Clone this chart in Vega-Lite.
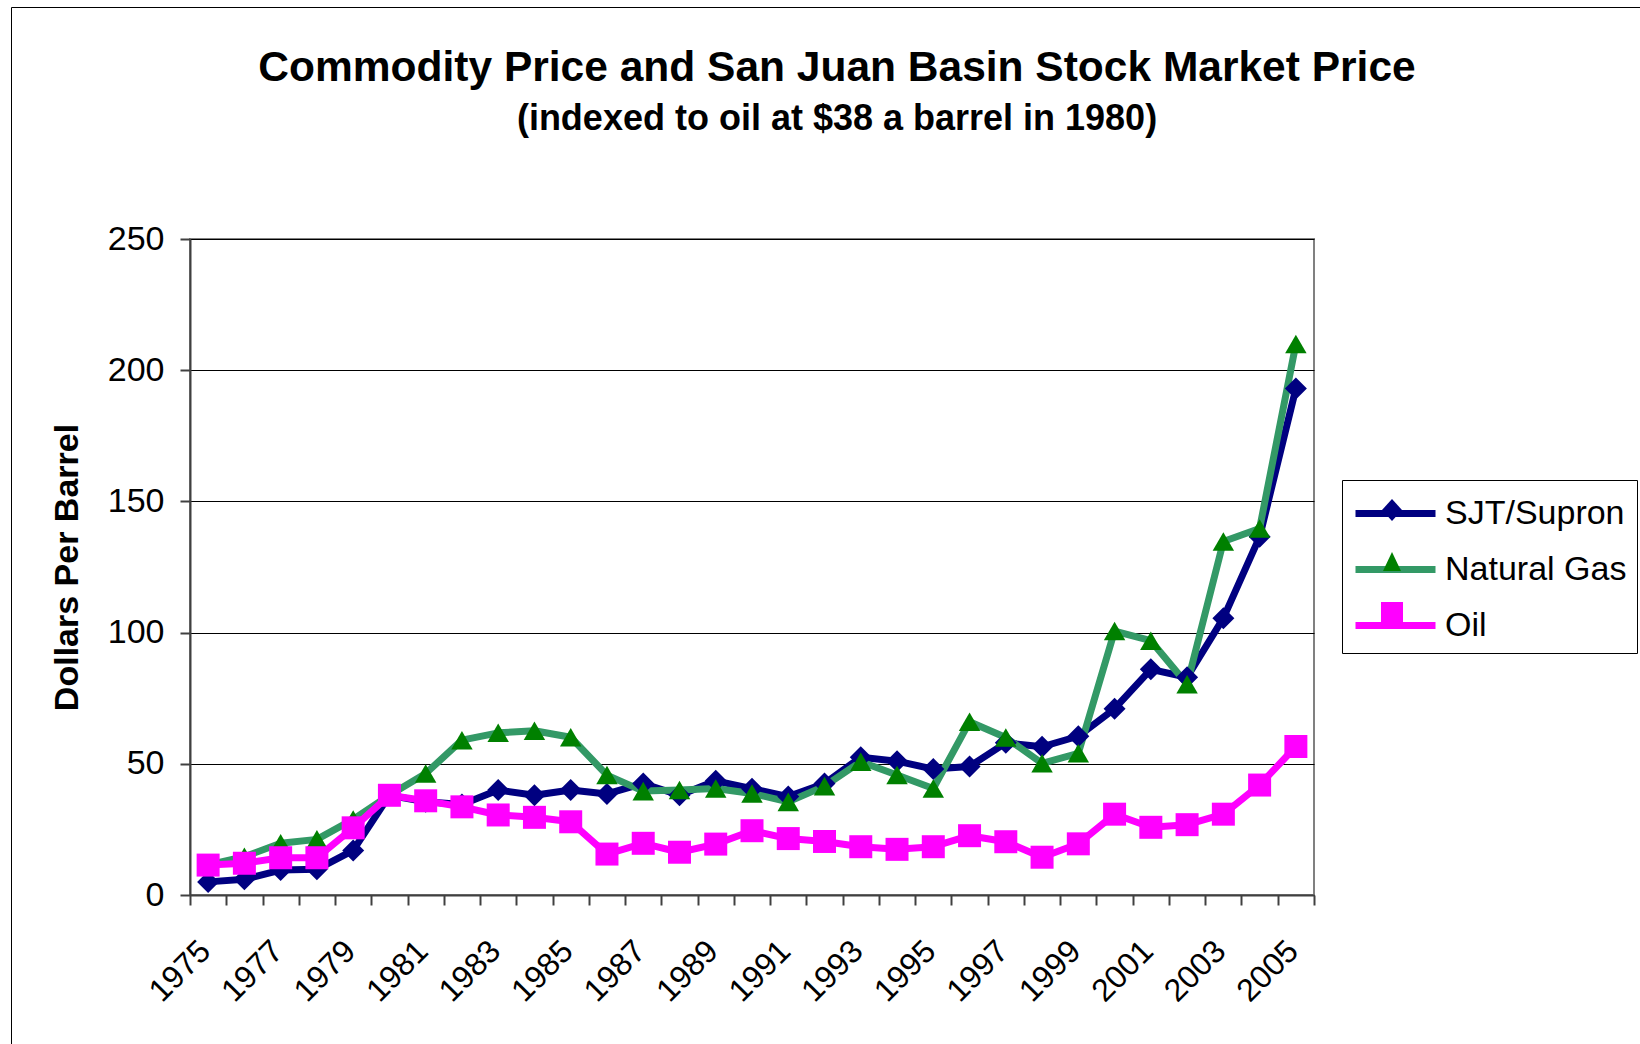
{
  "$schema": "https://vega.github.io/schema/vega-lite/v6.json",
  "width": 1124,
  "height": 656,
  "autosize": {"type": "none"},
  "padding": {"left": 190, "top": 239, "right": 326, "bottom": 149},
  "background": "white",
  "title": {
    "text": "Commodity Price and San Juan Basin Stock Market Price",
    "subtitle": "(indexed to oil at $38 a barrel in 1980)",
    "anchor": "middle",
    "frame": "group",
    "dx": 85,
    "offset": -130,
    "font": "Liberation Sans",
    "fontSize": 42.5,
    "fontWeight": "bold",
    "color": "black",
    "subtitleFont": "Liberation Sans",
    "subtitleFontSize": 36,
    "subtitleFontWeight": "bold",
    "subtitleColor": "black",
    "subtitlePadding": 12
  },
  "config": {
    "view": {"stroke": "#808080", "strokeWidth": 2},
    "axis": {"labelFont": "Liberation Sans", "titleFont": "Liberation Sans"}
  },
  "data": {
    "values": [
      {"year": "1975", "series": "SJT/Supron", "value": 5},
      {"year": "1976", "series": "SJT/Supron", "value": 6},
      {"year": "1977", "series": "SJT/Supron", "value": 9.5},
      {"year": "1978", "series": "SJT/Supron", "value": 9.8},
      {"year": "1979", "series": "SJT/Supron", "value": 17},
      {"year": "1980", "series": "SJT/Supron", "value": 38},
      {"year": "1981", "series": "SJT/Supron", "value": 35.5},
      {"year": "1982", "series": "SJT/Supron", "value": 34.5},
      {"year": "1983", "series": "SJT/Supron", "value": 40},
      {"year": "1984", "series": "SJT/Supron", "value": 38},
      {"year": "1985", "series": "SJT/Supron", "value": 40},
      {"year": "1986", "series": "SJT/Supron", "value": 38.5},
      {"year": "1987", "series": "SJT/Supron", "value": 42.5},
      {"year": "1988", "series": "SJT/Supron", "value": 38},
      {"year": "1989", "series": "SJT/Supron", "value": 43.5},
      {"year": "1990", "series": "SJT/Supron", "value": 40.5},
      {"year": "1991", "series": "SJT/Supron", "value": 37.5},
      {"year": "1992", "series": "SJT/Supron", "value": 42.5},
      {"year": "1993", "series": "SJT/Supron", "value": 52.5},
      {"year": "1994", "series": "SJT/Supron", "value": 51},
      {"year": "1995", "series": "SJT/Supron", "value": 48},
      {"year": "1996", "series": "SJT/Supron", "value": 49},
      {"year": "1997", "series": "SJT/Supron", "value": 58},
      {"year": "1998", "series": "SJT/Supron", "value": 56.5},
      {"year": "1999", "series": "SJT/Supron", "value": 60.5},
      {"year": "2000", "series": "SJT/Supron", "value": 71},
      {"year": "2001", "series": "SJT/Supron", "value": 86},
      {"year": "2002", "series": "SJT/Supron", "value": 83},
      {"year": "2003", "series": "SJT/Supron", "value": 105.5},
      {"year": "2004", "series": "SJT/Supron", "value": 136.5},
      {"year": "2005", "series": "SJT/Supron", "value": 193},
      {"year": "1975", "series": "Natural Gas", "value": 11.5},
      {"year": "1976", "series": "Natural Gas", "value": 14.6},
      {"year": "1977", "series": "Natural Gas", "value": 19.7},
      {"year": "1978", "series": "Natural Gas", "value": 21.2},
      {"year": "1979", "series": "Natural Gas", "value": 28.8},
      {"year": "1980", "series": "Natural Gas", "value": 38},
      {"year": "1981", "series": "Natural Gas", "value": 46.3},
      {"year": "1982", "series": "Natural Gas", "value": 59},
      {"year": "1983", "series": "Natural Gas", "value": 61.8},
      {"year": "1984", "series": "Natural Gas", "value": 62.6},
      {"year": "1985", "series": "Natural Gas", "value": 60.1},
      {"year": "1986", "series": "Natural Gas", "value": 45.7},
      {"year": "1987", "series": "Natural Gas", "value": 39.6},
      {"year": "1988", "series": "Natural Gas", "value": 40},
      {"year": "1989", "series": "Natural Gas", "value": 40.6},
      {"year": "1990", "series": "Natural Gas", "value": 38.7},
      {"year": "1991", "series": "Natural Gas", "value": 35.5},
      {"year": "1992", "series": "Natural Gas", "value": 41.5},
      {"year": "1993", "series": "Natural Gas", "value": 50.8},
      {"year": "1994", "series": "Natural Gas", "value": 45.7},
      {"year": "1995", "series": "Natural Gas", "value": 40.6},
      {"year": "1996", "series": "Natural Gas", "value": 66},
      {"year": "1997", "series": "Natural Gas", "value": 60},
      {"year": "1998", "series": "Natural Gas", "value": 50.2},
      {"year": "1999", "series": "Natural Gas", "value": 54},
      {"year": "2000", "series": "Natural Gas", "value": 100.6},
      {"year": "2001", "series": "Natural Gas", "value": 96.9},
      {"year": "2002", "series": "Natural Gas", "value": 80.3},
      {"year": "2003", "series": "Natural Gas", "value": 134.7},
      {"year": "2004", "series": "Natural Gas", "value": 139.7},
      {"year": "2005", "series": "Natural Gas", "value": 210},
      {"year": "1975", "series": "Oil", "value": 11.4},
      {"year": "1976", "series": "Oil", "value": 12.1},
      {"year": "1977", "series": "Oil", "value": 14.2},
      {"year": "1978", "series": "Oil", "value": 14.2},
      {"year": "1979", "series": "Oil", "value": 25.6},
      {"year": "1980", "series": "Oil", "value": 38},
      {"year": "1981", "series": "Oil", "value": 35.9},
      {"year": "1982", "series": "Oil", "value": 33.6},
      {"year": "1983", "series": "Oil", "value": 30.5},
      {"year": "1984", "series": "Oil", "value": 29.6},
      {"year": "1985", "series": "Oil", "value": 27.9},
      {"year": "1986", "series": "Oil", "value": 15.6},
      {"year": "1987", "series": "Oil", "value": 19.7},
      {"year": "1988", "series": "Oil", "value": 16.3},
      {"year": "1989", "series": "Oil", "value": 19.4},
      {"year": "1990", "series": "Oil", "value": 24.5},
      {"year": "1991", "series": "Oil", "value": 21.5},
      {"year": "1992", "series": "Oil", "value": 20.4},
      {"year": "1993", "series": "Oil", "value": 18.4},
      {"year": "1994", "series": "Oil", "value": 17.4},
      {"year": "1995", "series": "Oil", "value": 18.4},
      {"year": "1996", "series": "Oil", "value": 22.6},
      {"year": "1997", "series": "Oil", "value": 20.3},
      {"year": "1998", "series": "Oil", "value": 14.4},
      {"year": "1999", "series": "Oil", "value": 19.5},
      {"year": "2000", "series": "Oil", "value": 30.8},
      {"year": "2001", "series": "Oil", "value": 25.8},
      {"year": "2002", "series": "Oil", "value": 26.8},
      {"year": "2003", "series": "Oil", "value": 30.8},
      {"year": "2004", "series": "Oil", "value": 41.9},
      {"year": "2005", "series": "Oil", "value": 56.6}
    ]
  },
  "encoding": {
    "x": {
      "field": "year",
      "type": "ordinal",
      "scale": {"type": "band", "paddingInner": 0, "paddingOuter": 0},
      "bandPosition": 0.5,
      "axis": {
        "title": null,
        "labelAngle": -45,
        "labelAlign": "right",
        "labelBaseline": "top",
        "labelFontSize": 32,
        "labelColor": "black",
        "labelOverlap": false,
        "labelExpr": "(+datum.value) % 2 == 1 ? datum.value : ''",
        "labelOffset": -14,
        "tickBand": "extent",
        "tickSize": 10,
        "tickColor": "#404040",
        "tickWidth": 2,
        "domainColor": "#404040",
        "domainWidth": 2,
        "labelPadding": 30,
        "grid": false
      }
    },
    "y": {
      "field": "value",
      "type": "quantitative",
      "scale": {"domain": [0, 250], "nice": false},
      "axis": {
        "title": "Dollars Per Barrel",
        "values": [0, 50, 100, 150, 200, 250],
        "titleFontSize": 34,
        "titleFontWeight": "bold",
        "titleColor": "black",
        "titlePadding": 23,
        "labelFontSize": 34,
        "labelColor": "black",
        "labelPadding": 16,
        "tickSize": 10,
        "tickColor": "#404040",
        "tickWidth": 2,
        "domainColor": "#404040",
        "domainWidth": 2,
        "grid": true,
        "gridColor": "black",
        "gridWidth": 1
      }
    }
  },
  "layer": [
    {
      "mark": {"type": "line", "strokeWidth": 7, "strokeJoin": "round", "strokeCap": "round"},
      "encoding": {
        "color": {
          "field": "series",
          "type": "nominal",
          "scale": {"domain": ["SJT/Supron", "Natural Gas", "Oil"], "range": ["#000080", "#339966", "#FF00FF"]},
          "legend": null
        }
      }
    },
    {
      "mark": {"type": "point", "filled": true, "opacity": 1, "strokeWidth": 0},
      "encoding": {
        "fill": {
          "field": "series",
          "type": "nominal",
          "scale": {"domain": ["SJT/Supron", "Natural Gas", "Oil"], "range": ["#000080", "#008000", "#FF00FF"]},
          "legend": null
        },
        "shape": {
          "field": "series",
          "type": "nominal",
          "scale": {"domain": ["SJT/Supron", "Natural Gas", "Oil"], "range": ["diamond", "triangle-up", "square"]},
          "legend": null
        },
        "size": {
          "field": "series",
          "type": "nominal",
          "scale": {"type": "ordinal", "domain": ["SJT/Supron", "Natural Gas", "Oil"], "range": [484, 460, 529]},
          "legend": null
        }
      }
    },
    {
      "transform": [{"filter": "false"}],
      "mark": {"type": "point", "filled": false, "opacity": 1, "strokeWidth": 7, "size": 1600},
      "encoding": {
        "stroke": {
          "field": "series",
          "type": "nominal",
          "scale": {"domain": ["SJT/Supron", "Natural Gas", "Oil"], "range": ["#000080", "#339966", "#FF00FF"]},
          "legend": {
            "orient": "none",
            "legendX": 1152,
            "legendY": 241,
            "title": null,
            "symbolType": "M-1,0H3",
            "symbolSize": 1600,
            "symbolStrokeWidth": 7,
            "labelFont": "Liberation Sans",
            "labelFontSize": 34,
            "labelColor": "black",
            "labelLimit": 400,
            "labelOffset": 46,
            "padding": 10,
            "rowPadding": 15,
            "strokeColor": "black"
          }
        }
      }
    },
    {
      "transform": [{"filter": "false"}],
      "mark": {"type": "point", "filled": true, "opacity": 1, "strokeWidth": 0, "size": 1600},
      "encoding": {
        "fill": {
          "field": "series",
          "type": "nominal",
          "scale": {"domain": ["SJT/Supron", "Natural Gas", "Oil"], "range": ["#000080", "#008000", "#FF00FF"]},
          "legend": {
            "orient": "none",
            "legendX": 1152,
            "legendY": 241,
            "title": null,
            "symbolSize": 1600,
            "symbolStrokeWidth": 0,
            "labelFont": "Liberation Sans",
            "labelFontSize": 34,
            "labelExpr": "''",
            "labelOffset": 46,
            "padding": 10,
            "rowPadding": 15
          }
        },
        "shape": {
          "field": "series",
          "type": "nominal",
          "scale": {"domain": ["SJT/Supron", "Natural Gas", "Oil"], "range": ["M1,-0.55L1.5,0L1,0.55L0.5,0Z", "M1,-0.5L1.45,0.45L0.55,0.45Z", "M0.45,-0.6H1.55V0.6H0.45Z"]},
          "legend": {
            "orient": "none",
            "legendX": 1152,
            "legendY": 241,
            "title": null,
            "symbolSize": 1600,
            "symbolStrokeWidth": 0,
            "labelFont": "Liberation Sans",
            "labelFontSize": 34,
            "labelExpr": "''",
            "labelOffset": 46,
            "padding": 10,
            "rowPadding": 15
          }
        }
      }
    },
    {
      "transform": [{"filter": "false"}],
      "mark": {"type": "point", "filled": true, "opacity": 1, "strokeWidth": 0},
      "encoding": {
        "strokeDash": {
          "field": "series",
          "type": "nominal",
          "scale": {"domain": ["chart area"], "range": [[1, 0]]},
          "legend": {
            "orient": "none",
            "legendX": -179,
            "legendY": -232,
            "title": null,
            "symbolOpacity": 0,
            "symbolSize": 1,
            "labelExpr": "''",
            "padding": 840,
            "strokeColor": "black"
          }
        }
      }
    }
  ],
  "resolve": {
    "scale": {"color": "independent", "fill": "independent", "stroke": "independent", "shape": "independent", "size": "independent", "strokeDash": "independent"},
    "legend": {"color": "independent", "fill": "independent", "stroke": "independent", "shape": "independent", "size": "independent", "strokeDash": "independent"}
  }
}
